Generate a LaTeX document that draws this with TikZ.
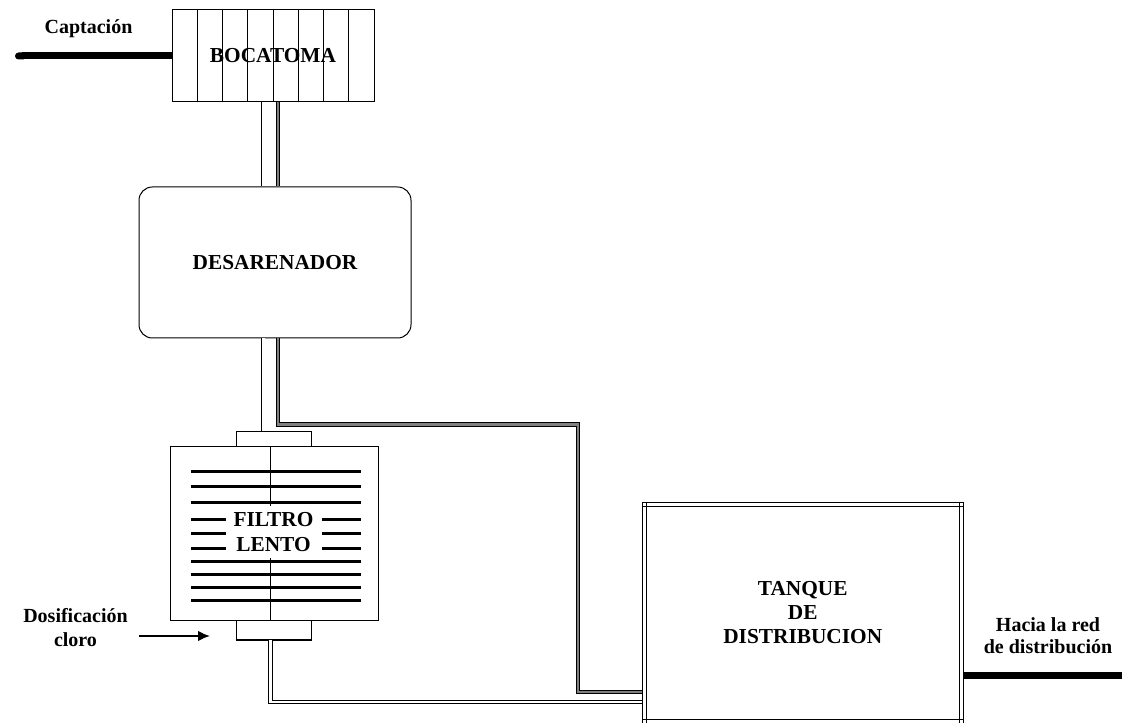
\documentclass[tikz,border=0pt]{standalone}
\usepackage{fontspec}
\setmainfont{Liberation Serif}
\usetikzlibrary{arrows.meta, calc}

\begin{document}
\begin{tikzpicture}[x=0.75pt, y=-0.75pt,
  every node/.style={font=\fontsize{15}{18}\selectfont\bfseries},
  unit/.style={draw, line width=0.75pt, fill=white, inner sep=0pt, align=center,
    font=\fontsize{16}{18.2}\selectfont\bfseries},
  grille/.style={path picture={
    \foreach \i in {1,...,7}
      \draw[line width=0.75pt] ([xshift=\i*18.94pt]path picture bounding box.north west)
        -- ([xshift=\i*18.94pt]path picture bounding box.south west);}},
  pipeA/.style={double=white, double distance=2pt, line width=0.6pt},
  pipeB/.style={double=gray, double distance=1.6pt, line width=0.9pt},
  feed/.style={line width=5.25pt},
  bar/.style={line width=2.25pt},
  dose/.style={line width=1.5pt, -{Latex[length=9pt,width=8pt]}}]
  \useasboundingbox (0,0) rectangle (1122,723);

  % units
  \node[unit, grille, minimum width=151.5pt, minimum height=69pt] (boca) at (273,56) {BOCATOMA};
  \node[unit, rounded corners=10pt, minimum width=204pt, minimum height=113.25pt] (desa) at (275,262.5) {DESARENADOR};
  \node[unit, minimum width=56.25pt, minimum height=11.25pt] (capt) at (273.5,439.5) {};
  \node[unit, minimum width=156pt, minimum height=130.5pt] (filtro) at (274,534) {};
  \node[unit, minimum width=56.25pt, minimum height=14.25pt] (capb) at (273.5,630.5) {};
  \draw[line width=1.5pt] (capb.south west) -- (capb.south east);
  \node[unit, minimum width=240.4pt, minimum height=166.1pt] (tanque) at (802.75,612.75) {TANQUE\\DE\\DISTRIBUCION};

  % filter media
  \coordinate (colC) at (270,0);
  \foreach \y in {472,487,503,520,534,549,562,575,588,601}
    \draw[bar] (191,\y) -- (361,\y);
  \draw[line width=0.75pt] (filtro.north -| colC) -- (filtro.south -| colC);
  \node[unit, draw=none, minimum width=72pt, minimum height=39pt] (filtrolbl) at (273.5,532) {FILTRO\\LENTO};

  % tank double frame
  \draw[line width=0.75pt] ($(tanque.north west)+(0,4.5)$) -- ($(tanque.north east)+(0,4.5)$);
  \draw[line width=0.75pt] ($(tanque.south west)+(0,-4.5)$) -- ($(tanque.south east)+(0,-4.5)$);
  \draw[line width=0.75pt] ($(tanque.north west)+(4.5,0)$) -- ($(tanque.south west)+(4.5,0)$);
  \draw[line width=0.75pt] ($(tanque.north east)+(-4.5,0)$) -- ($(tanque.south east)+(-4.5,0)$);

  % pipes
  \coordinate (colA) at (263.3,0);
  \coordinate (colB) at (277.8,0);
  \coordinate (colA2) at (270.5,0);
  \coordinate (turnB) at (578,424.5);
  \coordinate (levB) at (0,692);
  \coordinate (levA) at (0,702);
  \draw[pipeA] (boca.south -| colA) -- (desa.north -| colA);
  \draw[pipeB] (boca.south -| colB) -- (desa.north -| colB);
  \draw[pipeA] (desa.south -| colA) -- (capt.north -| colA);
  \draw[pipeB] (desa.south -| colB) |- (turnB) |- (tanque.west |- levB);
  \draw[pipeA] (capb.south -| colA2) |- (tanque.west |- levA);

  % inlet, outlet and dosing
  \coordinate (feedIn) at (15,56);
  \coordinate (redOut) at (1122,675);
  \draw[feed, {Round Cap[]}-] (feedIn) -- (boca.west);
  \draw[feed] (tanque.east |- redOut) -- (redOut);
  \coordinate (cloroIn) at (139,636);
  \coordinate (cloroTip) at (210,636);
  \draw[dose] (cloroIn) -- (cloroTip);

  % labels
  \node (captacion) at (88.5,29) {Captación};
  \node[align=center] (dosif) at (75.5,628) {Dosificación\\cloro};
  \node[align=center, font=\fontsize{15}{16.5}\selectfont\bfseries] (hacia) at (1048,636) {Hacia la red\\de distribución};
\end{tikzpicture}
\end{document}
